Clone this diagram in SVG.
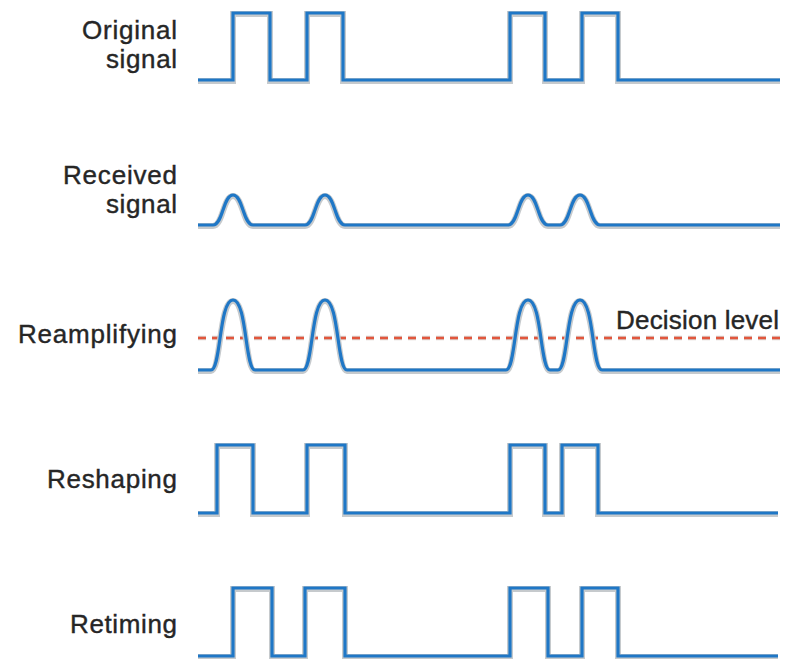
<svg xmlns="http://www.w3.org/2000/svg" width="792" height="659" viewBox="0 0 792 659">
  <style>
    .halo { fill: none; stroke: #c6cacd; stroke-width: 6; stroke-linejoin: miter; }
    .sig { fill: none; stroke: #1f77c6; stroke-width: 3.2; stroke-linejoin: miter; }
    .lbl { font-family: "Liberation Sans", Arial, sans-serif; font-size: 26px; fill: #262626; stroke: #262626; stroke-width: 0.4; text-anchor: end; }
    .dhalo { fill: none; stroke: #d9d2cf; stroke-width: 4.5; stroke-dasharray: 8 6; }
    .dash { fill: none; stroke: #e2563c; stroke-width: 2.5; stroke-dasharray: 8 6; }
  </style>
  <rect width="792" height="659" fill="#ffffff"/>

  <g id="original">
    <path class="halo" transform="translate(0,1)" d="M198,80 H233 V13 H270 V80 H307 V13 H343 V80 H510 V13 H545 V80 H582 V13 H618 V80 H780"/>
    <path class="sig" d="M198,80 H233 V13 H270 V80 H307 V13 H343 V80 H510 V13 H545 V80 H582 V13 H618 V80 H780"/>
    <text class="lbl" x="177" y="39" textLength="95" lengthAdjust="spacing">Original</text>
    <text class="lbl" x="177" y="68" textLength="71" lengthAdjust="spacing">signal</text>
  </g>

  <g id="received">
    <path class="halo" transform="translate(0,1)" d="M198,225 H213 C223,225 223,195 233,195 C243,195 243,225 253,225 H305 C315,225 315,195 325,195 C335,195 335,225 345,225 H508 C518,225 518,195 528,195 C538,195 538,225 548,225 H560 C570,225 570,195 580,195 C590,195 590,225 600,225 H780"/>
    <path class="sig" d="M198,225 H213 C223,225 223,195 233,195 C243,195 243,225 253,225 H305 C315,225 315,195 325,195 C335,195 335,225 345,225 H508 C518,225 518,195 528,195 C538,195 538,225 548,225 H560 C570,225 570,195 580,195 C590,195 590,225 600,225 H780"/>
    <text class="lbl" x="177" y="184" textLength="114" lengthAdjust="spacing">Received</text>
    <text class="lbl" x="177" y="213" textLength="71" lengthAdjust="spacing">signal</text>
  </g>

  <g id="reamplifying">
    <path class="dhalo" d="M198,338 H780"/>
    <path class="dash" d="M198,338 H780"/>
    <path class="halo" transform="translate(0,1)" d="M198,370 H211 C221,370 219,300 233,300 C247,300 245,370 255,370 H303 C313,370 311,300 325,300 C339,300 337,370 347,370 H506 C516,370 514,300 528,300 C542,300 540,370 550,370 H558 C568,370 566,300 580,300 C594,300 592,370 602,370 H780"/>
    <path class="sig" d="M198,370 H211 C221,370 219,300 233,300 C247,300 245,370 255,370 H303 C313,370 311,300 325,300 C339,300 337,370 347,370 H506 C516,370 514,300 528,300 C542,300 540,370 550,370 H558 C568,370 566,300 580,300 C594,300 592,370 602,370 H780"/>
    <text class="lbl" x="177" y="343" textLength="159" lengthAdjust="spacing">Reamplifying</text>
    <text class="lbl" x="779" y="329" textLength="163" lengthAdjust="spacing">Decision level</text>
  </g>

  <g id="reshaping">
    <path class="halo" transform="translate(0,1)" d="M198,513 H217 V445 H253 V513 H307 V445 H345 V513 H510 V445 H545 V513 H562 V445 H598 V513 H778"/>
    <path class="sig" d="M198,513 H217 V445 H253 V513 H307 V445 H345 V513 H510 V445 H545 V513 H562 V445 H598 V513 H778"/>
    <text class="lbl" x="177" y="488" textLength="130" lengthAdjust="spacing">Reshaping</text>
  </g>

  <g id="retiming">
    <path class="halo" transform="translate(0,1)" d="M198,656 H233 V588 H272 V656 H305 V588 H345 V656 H510 V588 H548 V656 H582 V588 H618 V656 H778"/>
    <path class="sig" d="M198,656 H233 V588 H272 V656 H305 V588 H345 V656 H510 V588 H548 V656 H582 V588 H618 V656 H778"/>
    <text class="lbl" x="177" y="633" textLength="107" lengthAdjust="spacing">Retiming</text>
  </g>

  <g id="connectors"></g>
</svg>
